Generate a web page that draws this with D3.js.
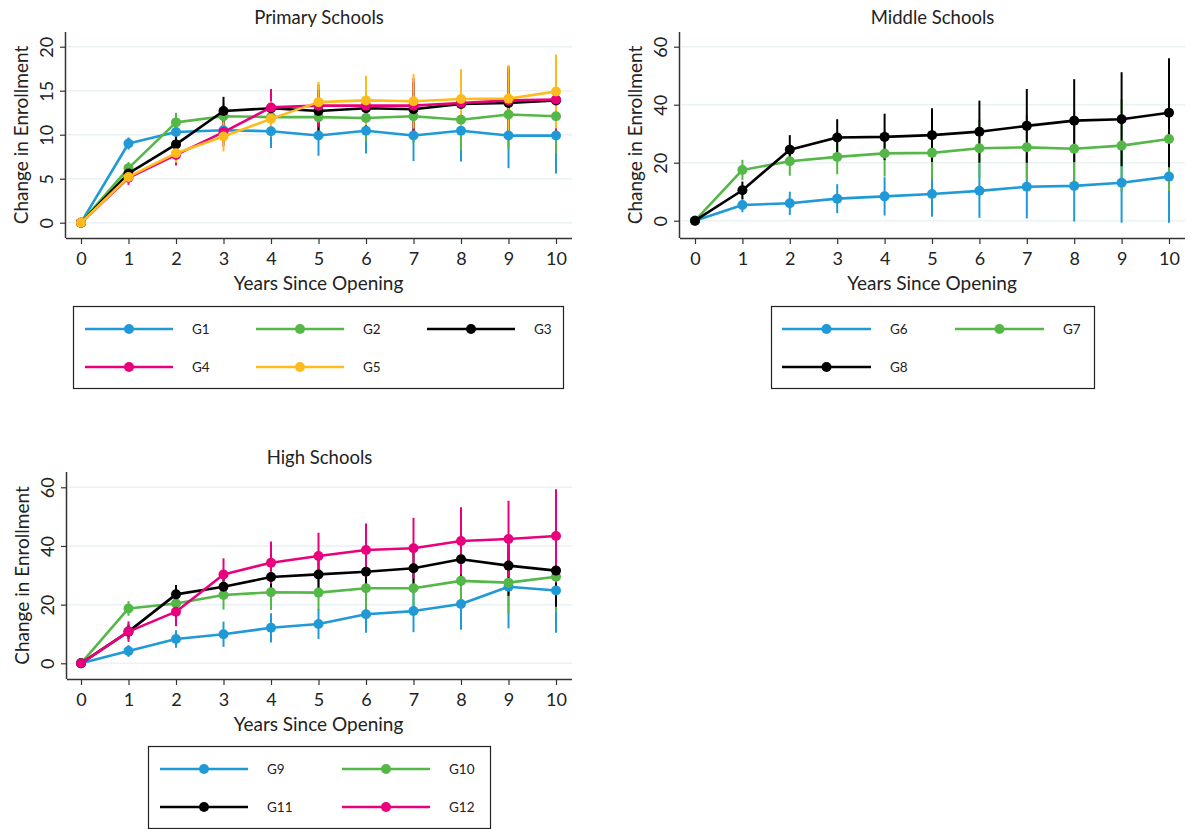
<!DOCTYPE html>
<html>
<head>
<meta charset="utf-8">
<script src="https://cdn.jsdelivr.net/npm/d3@7"></script>
<style>
  body { margin: 0; background: #fff; }
  svg { font-family: Lato, "Open Sans", sans-serif; }
</style>
</head>
<body>
<div id="chart"></div>
<script>
// years since opening
const years = [0, 1, 2, 3, 4, 5, 6, 7, 8, 9, 10];

// Primary schools: point estimates and CI half-widths
const g1 = [0, 9.0, 10.3, 10.5, 10.4, 9.9, 10.45, 9.9, 10.45, 9.9, 9.9];
const g1ci = [0, 0.7, 1.0, 1.4, 1.9, 2.3, 2.6, 2.9, 3.5, 3.7, 4.3];
const g2 = [0, 6.2, 11.4, 12.1, 12.0, 12.0, 11.9, 12.1, 11.7, 12.3, 12.1];
const g2ci = [0, 0.7, 1.1, 1.5, 1.9, 2.3, 2.7, 3.0, 3.5, 3.9, 4.3];
const g3 = [0, 5.6, 8.9, 12.7, 13.0, 12.7, 13.0, 12.9, 13.5, 13.6, 13.9];
const g3ci = [0, 0.8, 1.2, 1.6, 2.0, 2.4, 2.8, 3.1, 3.5, 3.9, 4.3];
const g4 = [0, 5.1, 7.7, 10.3, 13.1, 13.3, 13.3, 13.3, 13.6, 13.9, 14.0];
const g4ci = [0, 0.8, 1.2, 1.6, 2.1, 2.4, 2.8, 3.1, 3.6, 3.9, 4.3];
const g5 = [0, 5.2, 7.9, 9.8, 11.8, 13.7, 13.9, 13.8, 14.05, 14.1, 14.9];
const g5ci = [0, 0.7, 1.1, 1.7, 2.0, 2.3, 2.8, 3.1, 3.4, 3.8, 4.2];

// Middle schools
const g6 = [0, 5.4, 6.0, 7.6, 8.4, 9.2, 10.3, 11.7, 12.0, 13.1, 15.2];
const g6ci = [0, 2.5, 4.0, 5.0, 6.6, 7.8, 9.3, 10.9, 12.3, 13.8, 15.9];
const g7 = [0, 17.5, 20.5, 22.0, 23.2, 23.4, 25.0, 25.3, 24.8, 25.9, 28.2];
const g7ci = [0, 3.5, 5.0, 6.0, 8.0, 9.0, 10.0, 11.0, 13.0, 16.0, 18.0];
const g8 = [0, 10.5, 24.5, 28.7, 28.9, 29.5, 30.7, 32.7, 34.5, 35.0, 37.2];
const g8ci = [0, 3.0, 5.0, 6.3, 8.0, 9.3, 10.7, 12.7, 14.3, 16.2, 18.8];

// High schools
const g9 = [0, 4.2, 8.3, 9.9, 12.1, 13.4, 16.7, 17.8, 20.2, 26.1, 24.8];
const g9ci = [0, 2.0, 3.0, 4.3, 5.0, 5.1, 6.3, 7.2, 8.8, 14.2, 14.4];
const g10 = [0, 18.7, 20.4, 23.3, 24.2, 24.1, 25.6, 25.6, 28.1, 27.5, 29.5];
const g10ci = [0, 2.5, 3.5, 5.0, 6.0, 6.0, 7.0, 8.0, 9.0, 10.5, 12.0];
const g11 = [0, 10.8, 23.5, 26.1, 29.4, 30.3, 31.2, 32.4, 35.5, 33.3, 31.6];
const g11ci = [0, 2.5, 3.2, 4.0, 5.0, 6.5, 7.0, 8.0, 9.0, 10.3, 12.3];
const g12 = [0, 10.8, 17.6, 30.3, 34.3, 36.6, 38.6, 39.2, 41.7, 42.4, 43.4];
const g12ci = [0, 3.5, 5.0, 5.5, 7.2, 7.9, 9.1, 10.4, 11.5, 13.0, 15.9];

const primaryTicks = [0, 5, 10, 15, 20];
const otherTicks = [0, 20, 40, 60];

const blue = '#1f9ad6', green = '#55b748', black = '#000000', pink = '#e8007d', yellow = '#fdbb1e';

const svg = d3.select('#chart').append('svg')
    .attr('width', 1193)
    .attr('height', 829);

// one panel: axes, gridlines, CI spikes, connected lines, legend
function panel(cfg) {
    const x = d3.scaleLinear().domain([0, 10]).range([cfg.x0, cfg.x1]);
    const y = d3.scaleLinear().domain(cfg.yDomain).range([cfg.y0, cfg.y1]);
    const g = svg.append('g');

    // gridlines
    g.selectAll('.grid').data(cfg.yTicks).enter().append('line')
        .attr('x1', cfg.axisX + 1).attr('x2', cfg.right)
        .attr('y1', d => y(d)).attr('y2', d => y(d))
        .attr('stroke', '#eaf2f3').attr('stroke-width', 1.5);

    // x axis
    const xa = g.append('g').attr('transform', `translate(0,${cfg.bottom})`)
        .call(d3.axisBottom(x).tickValues(years).tickSize(6).tickSizeOuter(0).tickPadding(8));
    xa.select('.domain').attr('d', `M${cfg.axisX},0.5H${cfg.right}`).attr('stroke', '#333').attr('stroke-width', 1.5);
    xa.selectAll('.tick line').attr('stroke', '#333').attr('stroke-width', 1.2);
    xa.selectAll('.tick text').attr('font-size', 18).attr('fill', '#222').attr('font-family', 'Lato');

    // y axis
    const ya = g.append('g').attr('transform', `translate(${cfg.axisX},0)`)
        .call(d3.axisLeft(y).tickValues(cfg.yTicks).tickSize(6).tickSizeOuter(0).tickPadding(8));
    ya.select('.domain').attr('d', `M-0.5,${cfg.top}V${cfg.bottom}`).attr('stroke', '#333').attr('stroke-width', 1.5);
    ya.selectAll('.tick line').attr('stroke', '#333').attr('stroke-width', 1.2);
    ya.selectAll('.tick text')
        .attr('font-size', 18).attr('fill', '#222').attr('font-family', 'Lato')
        .attr('text-anchor', 'middle').attr('dy', null).attr('x', null)
        .attr('transform', 'translate(-20,0) rotate(-90)')
        .attr('dominant-baseline', 'central');

    // titles
    g.append('text').attr('x', (cfg.axisX + cfg.right) / 2).attr('y', cfg.titleY)
        .attr('text-anchor', 'middle').attr('font-size', 18.5).attr('fill', '#222')
        .text(cfg.title);
    g.append('text').attr('x', (cfg.x0 + cfg.x1) / 2).attr('y', cfg.bottom + 52)
        .attr('text-anchor', 'middle').attr('font-size', 19).attr('fill', '#222')
        .text('Years Since Opening');
    g.append('text')
        .attr('transform', `translate(${cfg.axisX - 46},${(cfg.top + cfg.bottom) / 2}) rotate(-90)`)
        .attr('text-anchor', 'middle').attr('font-size', 19).attr('fill', '#222')
        .attr('dominant-baseline', 'central')
        .text('Change in Enrollment');

    // CI spikes first, then lines and markers on top
    cfg.series.forEach(s => {
        g.selectAll(null).data(years.slice(1)).enter().append('line')
            .attr('x1', d => x(d)).attr('x2', d => x(d))
            .attr('y1', d => y(s.values[d] - s.ci[d]))
            .attr('y2', d => y(s.values[d] + s.ci[d]))
            .attr('stroke', s.color).attr('stroke-width', 2);
    });
    cfg.series.forEach(s => {
        g.append('path')
            .datum(years)
            .attr('d', d3.line().x(d => x(d)).y(d => y(s.values[d])))
            .attr('fill', 'none').attr('stroke', s.color).attr('stroke-width', 2.6)
            .attr('stroke-linejoin', 'round');
        g.selectAll(null).data(years).enter().append('circle')
            .attr('cx', d => x(d)).attr('cy', d => y(s.values[d]))
            .attr('r', 5).attr('fill', s.color);
    });

    // legend box
    const lg = cfg.legend;
    g.append('rect').attr('x', lg.x + 0.5).attr('y', lg.y + 0.5)
        .attr('width', lg.w).attr('height', lg.h)
        .attr('fill', 'none').attr('stroke', '#222').attr('stroke-width', 1.2);
    cfg.series.forEach((s, i) => {
        const col = i % lg.cols, row = Math.floor(i / lg.cols);
        const lx = lg.x + lg.pad + col * lg.colW;
        const ly = lg.y + 23 + row * 38;
        g.append('line').attr('x1', lx).attr('x2', lx + lg.lineW)
            .attr('y1', ly).attr('y2', ly)
            .attr('stroke', s.color).attr('stroke-width', 2.6);
        g.append('circle').attr('cx', lx + lg.lineW / 2).attr('cy', ly).attr('r', 5).attr('fill', s.color);
        g.append('text').attr('x', lx + lg.lineW + 19).attr('y', ly)
            .attr('dominant-baseline', 'central').attr('font-size', 13.5).attr('fill', '#222')
            .text(s.name);
    });
}

panel({
    title: 'Primary Schools', titleY: 24,
    x0: 81, x1: 556, y0: 222.7, y1: 46.7, yDomain: [0, 20], yTicks: primaryTicks,
    axisX: 66, right: 572, top: 32, bottom: 238,
    series: [
        { name: 'G1', values: g1, ci: g1ci, color: blue },
        { name: 'G2', values: g2, ci: g2ci, color: green },
        { name: 'G3', values: g3, ci: g3ci, color: black },
        { name: 'G4', values: g4, ci: g4ci, color: pink },
        { name: 'G5', values: g5, ci: g5ci, color: yellow }
    ],
    legend: { x: 73, y: 306, w: 490, h: 82, cols: 3, colW: 171, pad: 12, lineW: 88 }
});

panel({
    title: 'Middle Schools', titleY: 24,
    x0: 695, x1: 1169, y0: 220.7, y1: 46.7, yDomain: [0, 60], yTicks: otherTicks,
    axisX: 680, right: 1185, top: 32, bottom: 238,
    series: [
        { name: 'G6', values: g6, ci: g6ci, color: blue },
        { name: 'G7', values: g7, ci: g7ci, color: green },
        { name: 'G8', values: g8, ci: g8ci, color: black }
    ],
    legend: { x: 771, y: 306, w: 323, h: 82, cols: 2, colW: 173, pad: 11, lineW: 89 }
});

panel({
    title: 'High Schools', titleY: 464,
    x0: 81, x1: 556, y0: 663.3, y1: 487.3, yDomain: [0, 60], yTicks: otherTicks,
    axisX: 67, right: 572, top: 472, bottom: 679,
    series: [
        { name: 'G9', values: g9, ci: g9ci, color: blue },
        { name: 'G10', values: g10, ci: g10ci, color: green },
        { name: 'G11', values: g11, ci: g11ci, color: black },
        { name: 'G12', values: g12, ci: g12ci, color: pink }
    ],
    legend: { x: 148, y: 746, w: 342, h: 82, cols: 2, colW: 182, pad: 12, lineW: 88 }
});
</script>
</body>
</html>
